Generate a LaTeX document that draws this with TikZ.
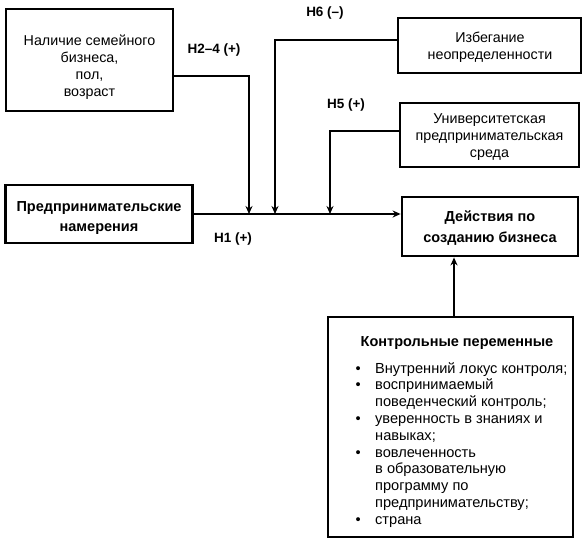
\documentclass[tikz,border=0pt]{standalone}
\usepackage{fontspec}
\setmainfont{Liberation Sans}
\usetikzlibrary{arrows.meta}
\begin{document}
\begin{tikzpicture}[x=1pt,y=-1pt,
  box/.style={draw, line width=2.8pt, inner sep=0pt},
  conn/.style={line width=2pt},
  arr/.style={conn, -{Stealth[length=8pt,width=7pt]}},
  lbl/.style={font=\bfseries\fontsize{13.5}{15}\selectfont, inner sep=0pt},
  txt/.style={align=center, font=\fontsize{14.3}{17}\selectfont, inner sep=0pt},
  btxt/.style={align=center, font=\bfseries\fontsize{14.5}{20.5}\selectfont, inner sep=0pt}]
\useasboundingbox (0,0) rectangle (583,541);

% boxes
\node[box, minimum width=167pt, minimum height=102pt] (fam) at (89.5,60) {};
\node[txt] (famt) at (89.5,67.5) {Наличие семейного\\бизнеса,\\пол,\\возраст};

\node[box, minimum width=183pt, minimum height=55pt] (unc) at (489.5,45.5) {};
\node[txt] (unct) at (490,47) {Избегание\\неопределенности};

\node[box, minimum width=179pt, minimum height=64pt] (uni) at (489.5,135) {};
\node[txt] (unit) at (489.5,137) {Университетская\\предпринимательская\\среда};

\node[box, minimum width=187pt, minimum height=58pt] (ent) at (99,214) {};
\node[btxt] (entt) at (99,218) {Предпринимательские\\намерения};

\node[box, minimum width=176pt, minimum height=59pt] (act) at (490,226.5) {};
\node[btxt] (actt) at (490,228) {Действия по\\созданию бизнеса};

\node[box, minimum width=245pt, minimum height=220pt] (ctl) at (450.5,427) {};
\node[btxt] (ctlt) at (457,343) {Контрольные переменные};
\node[anchor=base west, inner sep=0pt, font=\fontsize{14.6}{16.8}\selectfont] (ctll) at (355.5,373)
{\begin{tabular}[t]{@{}p{19.5pt}@{}l@{}}
• & Внутренний локус контроля;\\
• & воспринимаемый\\
  & поведенческий контроль;\\
• & уверенность в знаниях и\\
  & навыках;\\
• & вовлеченность\\
  & в образовательную\\
  & программу по\\
  & предпринимательству;\\
• & страна
\end{tabular}};

% junction points on the main line
\coordinate (m24) at (249,214);
\coordinate (m6) at (275,214);
\coordinate (m5) at (330,214);

% connectors
\draw[arr] (fam.east |- 0,76) -| (m24);
\draw[arr] (unc.west |- 0,40) -| (m6);
\draw[arr] (uni.west |- 0,131) -| (m5);
\draw[arr] (ent.east |- 0,214) -- (act.west |- 0,214);
\draw[arr] (ctl.north -| 454,0) -- (act.south -| 454,0);

% labels
\node[lbl] (l24) at (214,50) {H2–4 (+)};
\node[lbl] (l6) at (325,13) {H6 (–)};
\node[lbl] (l5) at (346,105) {H5 (+)};
\node[lbl] (l1) at (233,239) {H1 (+)};
\end{tikzpicture}
\end{document}
